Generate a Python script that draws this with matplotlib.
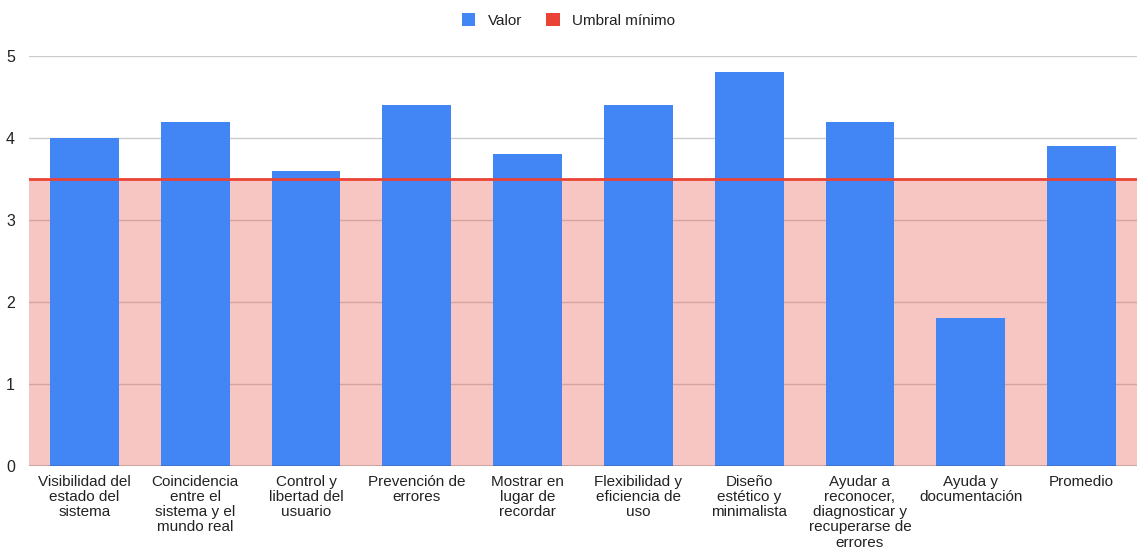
import matplotlib.pyplot as plt
from matplotlib.patches import Patch

categories = [
    "Visibilidad del\nestado del\nsistema",
    "Coincidencia\nentre el\nsistema y el\nmundo real",
    "Control y\nlibertad del\nusuario",
    "Prevención de\nerrores",
    "Mostrar en\nlugar de\nrecordar",
    "Flexibilidad y\neficiencia de\nuso",
    "Diseño\nestético y\nminimalista",
    "Ayudar a\nreconocer,\ndiagnosticar y\nrecuperarse de\nerrores",
    "Ayuda y\ndocumentación",
    "Promedio",
]
valores = [4.0, 4.2, 3.6, 4.4, 3.8, 4.4, 4.8, 4.2, 1.8, 3.9]
umbral = [3.5] * len(categories)

BLUE = "#4285F4"
RED = "#EA4335"

plt.rcParams['font.family'] = ['Liberation Sans', 'DejaVu Sans']

fig = plt.figure(figsize=(11.37, 5.49), dpi=100)
ax = fig.add_axes([0.0255, 0.151, 0.9745, 0.747])

x = list(range(len(categories)))
xs = [-0.5] + x + [len(categories) - 0.5]
ys = [umbral[0]] + umbral + [umbral[-1]]

ax.fill_between(xs, 0, ys, color=RED, alpha=0.3, linewidth=0, zorder=1)
ax.bar(x, valores, width=0.62, color=BLUE, zorder=2)
ax.plot(xs, ys, color=RED, linewidth=2, zorder=3)

ax.set_xlim(-0.5, len(categories) - 0.5)
ax.set_ylim(0, 5)
ax.set_yticks([0, 1, 2, 3, 4, 5])
ax.yaxis.grid(True, color="#cccccc", linewidth=1, zorder=0)
ax.set_axisbelow(True)
ax.axhline(0, color="#333333", linewidth=1, zorder=4)

ax.set_xticks(x)
ax.set_xticklabels(categories, fontsize=11, color="#222222", linespacing=1.1)
ax.tick_params(axis='x', length=0, pad=6.5)
ax.tick_params(axis='y', length=0, pad=10, labelsize=11.5, labelcolor="#222222")
for s in ax.spines.values():
    s.set_visible(False)

handles = [Patch(facecolor=BLUE, label="Valor"),
           Patch(facecolor=RED, label="Umbral mínimo")]
fig.legend(handles=handles, loc="center", bbox_to_anchor=(0.5, 0.963), ncol=2,
           frameon=False, fontsize=11, handlelength=0.9, handleheight=0.9,
           columnspacing=1.6, handletextpad=0.8, labelcolor="#222222")

fig.savefig("out.png", dpi=100)
